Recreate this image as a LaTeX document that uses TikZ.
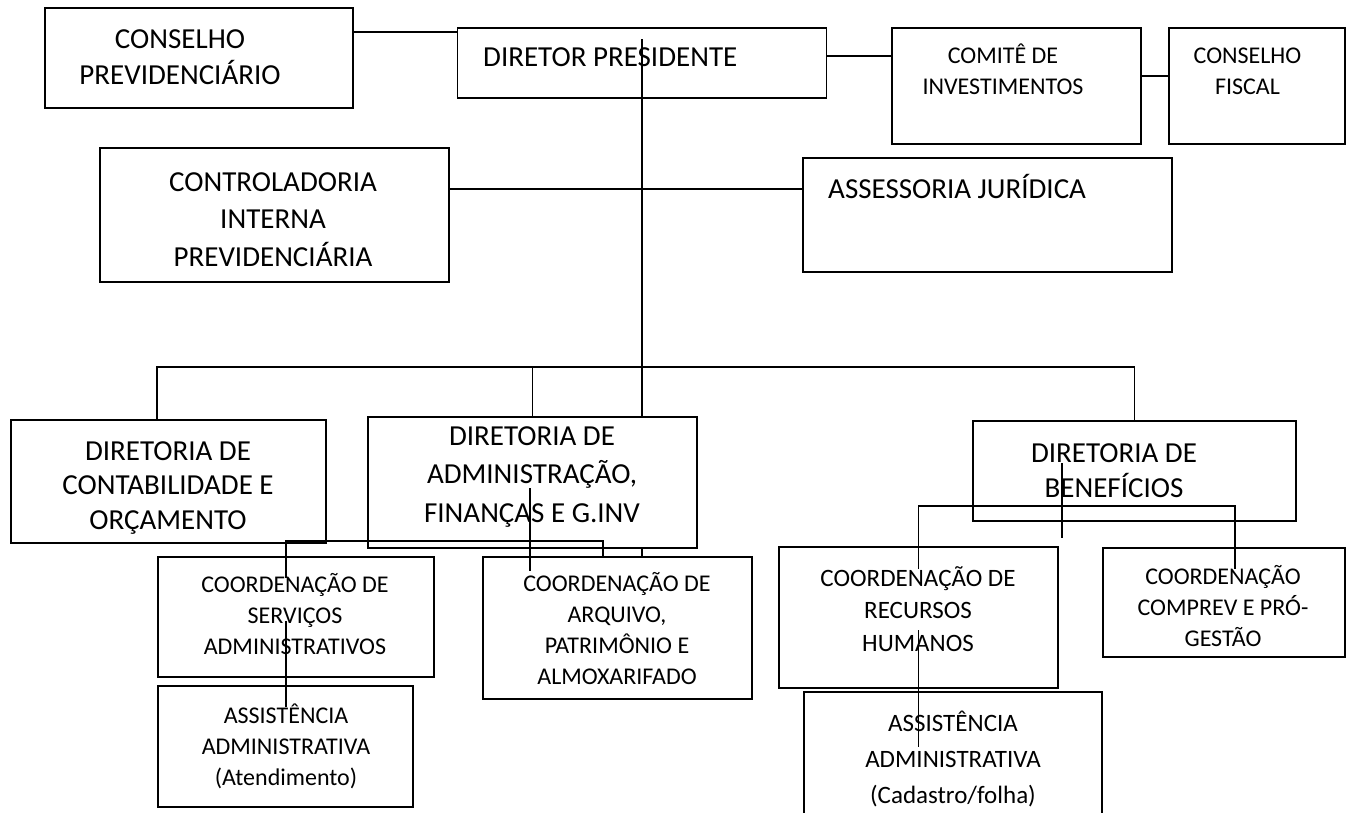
\documentclass[tikz,border=0pt]{standalone}
\usepackage{fontspec}
\setmainfont{Carlito}

\begin{document}
\begin{tikzpicture}[
	x=1pt, y=-1pt,
	box/.style 2 args={
		rectangle,
		draw=black,
		line width=1.8pt,
		minimum width=#1,
		minimum height=#2,
		inner sep=0pt,
	},
	txt/.style={
		align=center,
		inner sep=0pt,
		font=\fontsize{29}{36}\selectfont,
	},
	small/.style={
		txt,
		font=\fontsize{24}{31}\selectfont,
	},
	link/.style={line width=1.6pt},
]

\useasboundingbox[fill=white] (0,0) rectangle (1351,813);

\node[box={308pt}{100pt}] (cp) at (199,58) {};
\node[txt] (cp-t) at (180,57) {CONSELHO\\PREVIDENCIÁRIO};

\node[box={369pt}{70pt}] (dp) at (642,63) {};
\node[txt, anchor=west] (dp-t) at (483,57) {DIRETOR PRESIDENTE};

\node[box={249pt}{116pt}] (ci) at (1016.5,86) {};
\node[small] (ci-t) at (1003,69.5) {COMITÊ DE\\INVESTIMENTOS};

\node[box={176pt}{116pt}] (cf) at (1257,86) {};
\node[small] (cf-t) at (1247.5,71.5) {CONSELHO\\FISCAL};

\node[box={349pt}{134pt}] (cip) at (274.5,215) {};
\node[txt, font=\fontsize{29}{37.5}\selectfont] (cip-t) at (273,219.5) {CONTROLADORIA\\INTERNA\\PREVIDENCIÁRIA};

\node[box={369pt}{114pt}] (aj) at (987.5,215) {};
\node[txt, anchor=west] (aj-t) at (828,186) {ASSESSORIA JURÍDICA};

\node[box={315pt}{123pt}] (dco) at (168.5,481.5) {};
\node[txt, font=\fontsize{29}{34.5}\selectfont] (dco-t) at (168,488) {DIRETORIA DE\\CONTABILIDADE E\\ORÇAMENTO};

\node[box={329pt}{131pt}] (dad) at (532.5,482.5) {};
\node[txt, font=\fontsize{29}{38.5}\selectfont] (dad-t) at (532,477) {DIRETORIA DE\\ADMINISTRAÇÃO,\\FINANÇAS E G.INV};

\node[box={323pt}{100pt}] (dbe) at (1134.5,471) {};
\node[txt, font=\fontsize{29}{35}\selectfont] (dbe-t) at (1114,470.5) {DIRETORIA DE\\BENEFÍCIOS};

\node[box={276pt}{120pt}] (cse) at (296,617) {};
\node[small] (cse-t) at (295,614) {COORDENAÇÃO DE\\SERVIÇOS\\ADMINISTRATIVOS};

\node[box={255pt}{121pt}] (aat) at (285.5,746.5) {};
\node[small] (aat-t) at (286,746) {ASSISTÊNCIA\\ADMINISTRATIVA\\(Atendimento)};

\node[box={269pt}{142pt}] (car) at (617.5,628) {};
\node[small] (car-t) at (617,629) {COORDENAÇÃO DE\\ARQUIVO,\\PATRIMÔNIO E\\ALMOXARIFADO};

\node[box={279pt}{141pt}] (crh) at (918.5,617.5) {};
\node[small, font=\fontsize{25}{32.5}\selectfont] (crh-t) at (918,609) {COORDENAÇÃO DE\\RECURSOS\\HUMANOS};

\node[box={242pt}{109pt}] (cpg) at (1224,602.5) {};
\node[small] (cpg-t) at (1223,606) {COORDENAÇÃO\\COMPREV E PRÓ-\\GESTÃO};

\node[box={298pt}{148pt}] (aca) at (953,766) {};
\node[small, font=\fontsize{25}{36}\selectfont] (aca-t) at (953,759) {ASSISTÊNCIA\\ADMINISTRATIVA\\(Cadastro/folha)};

\coordinate (bus) at (642,367);
\coordinate (sbus) at (286,541);
\coordinate (bbus) at (1062,506);

\draw[link] ([yshift=-25pt]cp.north east) -- ([yshift=-25pt]cp.north east -| dp.west);
\draw[link] ([yshift=7pt]dp.east) -- ([yshift=7pt]dp.east -| ci.west);
\draw[link] ([yshift=10pt]ci.east) -- ([yshift=10pt]ci.east -| cf.west);
\draw[link] ([yshift=26pt]cip.east) -- ([yshift=26pt]cip.east -| aj.west);

\draw[link] ([yshift=-12pt]dp.north) -- (dp.north |- dad.north);
\draw[link] (dp.north |- dad.south) -- (dp.north |- car.north);
\draw[link] ([xshift=-11.5pt]dco.north) |- (bus) -| (dbe.north);
\draw[link] (bus -| dad.north) -- (dad.north);

\draw[link] (sbus |- cse.north) ++(0,22) -- (sbus) -| ([xshift=-14.5pt]car.north);
\draw[link] ([yshift=-4pt]cse.center -| sbus) -- ([yshift=-22pt]aat.north -| sbus);
\draw[link] ([xshift=-2.5pt,yshift=-5.5pt]dad.center) -- ([xshift=-2.5pt,yshift=-15pt]dad.center |- car.north);

\draw[link] ([yshift=8pt]dbe.center -| bbus) -- ([yshift=-16pt]dbe.south -| bbus);
\draw[link] ([yshift=-23pt]crh.north) |- (bbus) -| ([xshift=11pt,yshift=-22pt]cpg.north);
\draw[link] ([yshift=-12.5pt]crh.center) -- ([yshift=-56pt]aca.north -| crh.center);

\end{tikzpicture}
\end{document}
